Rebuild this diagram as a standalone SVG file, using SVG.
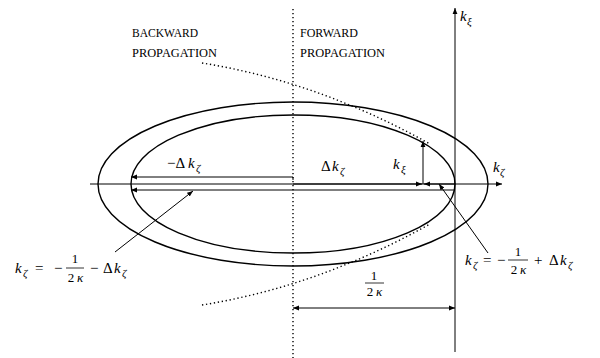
<svg xmlns="http://www.w3.org/2000/svg" width="600" height="358" viewBox="0 0 600 358">
<style>
.t{font-family:"Liberation Serif","DejaVu Serif",serif;font-size:11.5px;fill:#000}
.m{font-family:"Liberation Serif","DejaVu Serif",serif;font-size:15px;font-style:italic;fill:#000}
.r{font-family:"Liberation Serif","DejaVu Serif",serif;font-size:15px;fill:#000}
.s{font-family:"Liberation Serif","DejaVu Serif",serif;font-size:11px;font-style:italic;fill:#000}
.f{font-family:"Liberation Serif","DejaVu Serif",serif;font-size:13px;fill:#000}
.fi{font-family:"Liberation Serif","DejaVu Serif",serif;font-size:13px;font-style:italic;fill:#000}
.ln{fill:none;stroke:#000;stroke-width:1}
.el{fill:none;stroke:#000;stroke-width:1.4}
.dot{fill:none;stroke:#000;stroke-width:1.4;stroke-dasharray:1.3 2.7}
.bar{stroke:#000;stroke-width:0.8}
</style>
<defs>
<marker id="ah" viewBox="0 0 6 6" refX="6" refY="3" markerWidth="6" markerHeight="6" markerUnits="userSpaceOnUse" orient="auto-start-reverse">
<path d="M0,0.6 L6,3 L0,5.4 z" fill="#000"/>
</marker>
</defs>
<rect width="600" height="358" fill="#fff"/>

<g id="dotted">
<line class="dot" x1="293" y1="9" x2="293" y2="358"/>
<path class="dot" d="M202,63 Q318.7,81.7 430,144"/>
<path class="dot" d="M202,305 Q318.7,286.3 430,224"/>
</g>

<g id="ellipses">
<ellipse id="outer" class="el" cx="293" cy="184" rx="195" ry="82"/>
<ellipse id="inner" class="el" cx="293" cy="184" rx="162" ry="69"/>
</g>

<g id="axes">
<path class="ln" d="M90,184 H502" marker-end="url(#ah)"/>
<path class="ln" d="M455,352 V8" marker-end="url(#ah)"/>
</g>

<g id="connectors">
<path class="ln" d="M293,180 V177 H131" marker-end="url(#ah)"/>
<path class="ln" d="M455,190 H131" marker-end="url(#ah)"/>
<path class="ln" d="M293,184 H422" marker-end="url(#ah)"/>
<path class="ln" d="M455,184 H424" marker-end="url(#ah)"/>
<path class="ln" d="M423,184 V141" marker-end="url(#ah)"/>
<path class="ln" d="M115,252 L193,191" marker-end="url(#ah)"/>
<path class="ln" d="M488,253 L439,184" marker-end="url(#ah)"/>
<path class="ln" d="M293,308 H455" marker-start="url(#ah)" marker-end="url(#ah)"/>
</g>

<g id="labels">
<text class="t" x="132" y="37" textLength="66" lengthAdjust="spacingAndGlyphs">BACKWARD</text>
<text class="t" x="132" y="57" textLength="85" lengthAdjust="spacingAndGlyphs">PROPAGATION</text>
<text class="t" x="300" y="37" textLength="58" lengthAdjust="spacingAndGlyphs">FORWARD</text>
<text class="t" x="300" y="57" textLength="85" lengthAdjust="spacingAndGlyphs">PROPAGATION</text>

<text class="m" x="460" y="21">k</text><text class="s" x="467" y="25">ξ</text>
<text class="m" x="493" y="172">k</text><text class="s" x="500" y="176">ζ</text>

<text class="r" x="167" y="168">−Δ</text><text class="m" x="188" y="168">k</text><text class="s" x="196" y="172">ζ</text>
<text class="r" x="321" y="171">Δ</text><text class="m" x="332" y="171">k</text><text class="s" x="340" y="175">ζ</text>
<text class="m" x="393" y="169">k</text><text class="s" x="401" y="173">ξ</text>

<g id="f-left">
<text class="m" x="15" y="273">k</text><text class="s" x="23" y="277">ζ</text>
<text class="r" x="35" y="273">=</text>
<text class="r" x="54" y="273">−</text>
<text class="f" x="75" y="263" text-anchor="middle">1</text>
<line class="bar" x1="66" y1="268" x2="84" y2="268"/>
<text class="f" x="71" y="282" text-anchor="middle">2</text><text class="fi" x="80" y="282" text-anchor="middle">κ</text>
<text class="r" x="90" y="273">−</text>
<text class="r" x="103" y="273">Δ</text><text class="m" x="114" y="273">k</text><text class="s" x="122" y="277">ζ</text>
</g>

<g id="f-right">
<text class="m" x="465" y="265">k</text><text class="s" x="473" y="269">ζ</text>
<text class="r" x="483" y="265">=</text>
<text class="r" x="497" y="265">−</text>
<text class="f" x="518" y="256" text-anchor="middle">1</text>
<line class="bar" x1="508" y1="260" x2="528" y2="260"/>
<text class="f" x="514" y="274" text-anchor="middle">2</text><text class="fi" x="523" y="274" text-anchor="middle">κ</text>
<text class="r" x="534" y="265">+</text>
<text class="r" x="549" y="265">Δ</text><text class="m" x="560" y="265">k</text><text class="s" x="568" y="269">ζ</text>
</g>

<g id="f-bottom">
<text class="f" x="374" y="280" text-anchor="middle">1</text>
<line class="bar" x1="365" y1="283" x2="384" y2="283"/>
<text class="f" x="370" y="296" text-anchor="middle">2</text><text class="fi" x="379" y="296" text-anchor="middle">κ</text>
</g>
</g>
</svg>
